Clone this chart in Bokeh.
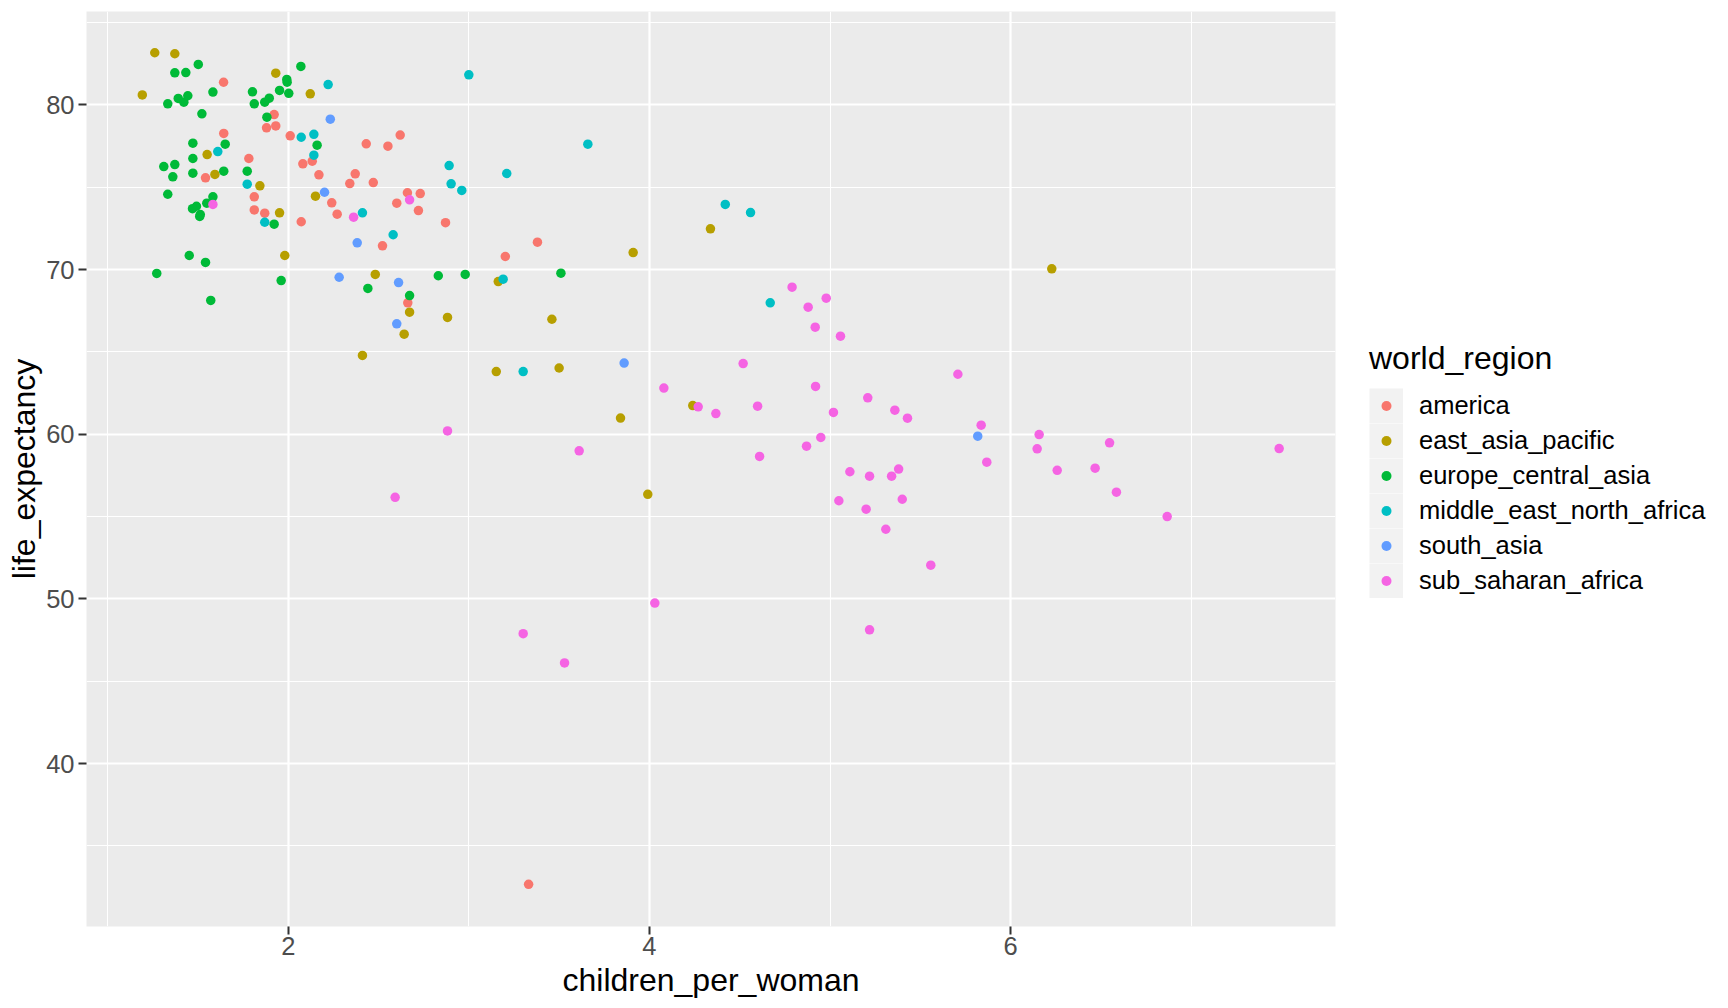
import numpy as np
from bokeh.plotting import figure
from bokeh.models import Range1d, FixedTicker, Legend, LegendItem
from bokeh.embed import file_html
from bokeh.resources import INLINE
from bokeh.core.properties import value

regions = ["america", "east_asia_pacific", "europe_central_asia",
           "middle_east_north_africa", "south_asia", "sub_saharan_africa"]
colors = ["#F8766D", "#B79F00", "#00BA38", "#00BFC4", "#619CFF", "#F564E3"]

america_cpw = [1.642, 1.643, 1.542, 1.782, 1.812, 1.812, 1.870, 1.922, 1.880, 1.931, 2.011,
               2.081, 2.133, 2.170, 2.072, 2.432, 2.552, 2.620, 2.371, 2.341, 2.471, 2.660,
               2.731, 2.241, 2.271, 2.601, 2.721, 2.871, 2.522, 3.202, 2.662, 3.380, 3.331]
america_le = [81.37, 78.26, 75.57, 76.74, 74.41, 73.62, 73.42, 79.41, 78.60, 78.72, 78.12,
              76.42, 76.58, 75.75, 72.90, 77.63, 77.49, 78.16, 75.81, 75.22, 75.28, 74.66,
              74.61, 74.05, 73.36, 74.03, 73.58, 72.84, 71.44, 70.79, 67.98, 71.66, 32.67]

eap_cpw = [1.261, 1.372, 1.192, 1.931, 2.122, 1.551, 1.594, 1.843, 1.952, 2.151, 1.981,
           2.482, 3.163, 2.672, 2.882, 2.642, 2.411, 3.152, 3.500, 4.240, 3.840, 3.991,
           3.910, 4.338, 3.460, 6.228]
eap_le = [83.16, 83.10, 80.60, 81.92, 80.67, 76.98, 75.77, 75.08, 73.44, 74.45, 70.85,
          69.70, 69.27, 67.41, 67.09, 66.07, 64.78, 63.80, 64.02, 61.74, 60.98, 56.35,
          71.03, 72.47, 66.98, 70.04]

eca_cpw = [1.502, 1.372, 1.433, 1.333, 1.391, 1.422, 1.444, 1.583, 1.522, 1.802, 1.812,
           1.870, 1.895, 2.070, 1.992, 1.994, 1.952, 2.003, 1.882, 2.160, 1.472, 1.651,
           1.472, 1.311, 1.372, 1.361, 1.472, 1.643, 1.773, 1.333, 1.583, 1.549, 1.492,
           1.470, 1.513, 1.510, 1.922, 1.452, 1.542, 1.272, 1.961, 1.571, 2.441, 2.831,
           2.980, 2.672, 3.510]
eca_le = [82.45, 81.94, 81.96, 80.06, 80.39, 80.16, 80.55, 80.77, 79.45, 80.79, 80.06,
          80.16, 80.40, 82.33, 81.54, 81.37, 80.87, 80.70, 79.25, 77.55, 77.67, 77.61,
          76.74, 76.25, 76.37, 75.63, 75.85, 75.97, 75.97, 74.57, 74.41, 74.03, 73.84,
          73.69, 73.34, 73.22, 72.75, 70.85, 70.43, 69.76, 69.33, 68.12, 68.85, 69.62,
          69.70, 68.42, 69.78]

mena_cpw = [2.072, 2.142, 2.142, 1.610, 1.773, 1.870, 2.221, 3.000, 2.891, 3.210, 2.902,
            2.961, 2.411, 2.581, 3.190, 3.301, 3.659, 4.420, 4.560, 4.669]
mena_le = [78.03, 78.21, 76.94, 77.16, 75.18, 72.87, 81.23, 81.82, 76.31, 75.83, 75.20,
           74.80, 73.44, 72.11, 69.41, 63.80, 77.61, 73.95, 73.46, 67.98]

sa_cpw = [2.233, 2.201, 2.382, 2.282, 2.611, 2.601, 3.860, 5.818]
sa_le = [79.13, 74.69, 71.62, 69.53, 69.21, 66.70, 64.32, 59.88]

ssa_cpw = [1.583, 2.362, 2.672, 4.080, 4.270, 4.368, 2.882, 3.611, 2.592, 4.030, 3.301,
           3.530, 4.790, 4.979, 4.879, 4.918, 5.058, 5.708, 4.519, 4.599, 4.610, 4.920,
           5.209, 5.019, 5.359, 5.429, 5.837, 6.158, 4.949, 4.870, 6.147, 5.868, 6.258,
           6.468, 5.110, 5.219, 5.341, 5.380, 5.049, 5.200, 5.400, 5.309, 5.558, 5.219,
           6.548, 6.586, 6.867, 7.487]
ssa_le = [73.95, 73.18, 74.23, 62.80, 61.66, 61.25, 60.20, 58.99, 56.17, 49.75, 47.89,
          46.11, 68.93, 68.26, 67.71, 66.50, 65.95, 63.64, 64.29, 61.70, 58.65, 62.90,
          62.21, 61.32, 61.46, 60.97, 60.55, 59.98, 59.80, 59.27, 59.11, 58.30, 57.81,
          57.94, 57.72, 57.45, 57.45, 57.88, 55.96, 55.45, 56.05, 54.23, 52.05, 48.12,
          59.48, 56.48, 55.00, 59.13]

x_major = [2, 4, 6]
x_minor = [1, 3, 5, 7]
y_major = [40, 50, 60, 70, 80]
y_minor = [35, 45, 55, 65, 75, 85]

series = [(america_cpw, america_le), (eap_cpw, eap_le), (eca_cpw, eca_le),
          (mena_cpw, mena_le), (sa_cpw, sa_le), (ssa_cpw, ssa_le)]

FONT = "Liberation Sans"

p = figure(frame_width=1249, frame_height=915, output_backend="svg", toolbar_location=None,
           x_range=Range1d(0.883, 7.799), y_range=Range1d(30.11, 85.665),
           min_border_left=86, min_border_right=20, min_border_top=11, min_border_bottom=74,
           background_fill_color="#EBEBEB", border_fill_color="white",
           outline_line_color=None)

xt = FixedTicker(ticks=x_major, minor_ticks=x_minor)
yt = FixedTicker(ticks=y_major, minor_ticks=y_minor)
p.xaxis.ticker = xt
p.yaxis.ticker = yt
p.xgrid.ticker = xt
p.ygrid.ticker = yt
for g in (p.xgrid, p.ygrid):
    g.grid_line_color = "white"
    g.grid_line_width = 2.2
    g.minor_grid_line_color = "white"
    g.minor_grid_line_width = 1.1

for ax in (p.xaxis, p.yaxis):
    ax.axis_line_color = None
    ax.major_tick_line_color = "#333333"
    ax.major_tick_line_width = 2
    ax.major_tick_out = 8
    ax.major_tick_in = 0
    ax.minor_tick_line_color = None
    ax.major_label_text_font = FONT
    ax.major_label_text_font_size = "25.5px"
    ax.major_label_text_color = "#4D4D4D"
    ax.axis_label_text_font = FONT
    ax.axis_label_text_font_size = "32px"
    ax.axis_label_text_font_style = "normal"
    ax.axis_label_text_color = "black"

p.xaxis.axis_label = "children_per_woman"
p.yaxis.axis_label = "life_expectancy"
p.xaxis.major_label_standoff = 2
p.xaxis.axis_label_standoff = 4
p.yaxis.major_label_standoff = 4
p.yaxis.axis_label_standoff = 1

for (xs, ys), c in zip(series, colors):
    p.scatter(x=xs, y=ys, size=9.5, fill_color=c, line_color=None)

# legend-only renderers (NaN data: nothing is drawn inside the panel)
nan = np.array([np.nan])
grey_r = p.line(x=nan, y=nan, line_color="#F2F2F2", line_width=35, line_cap="butt")
dot_rs = [p.line(x=nan, y=nan, line_color=c, line_width=10, line_cap="round",
                 line_dash="0 100", line_dash_offset=83) for c in colors]

legend = Legend(
    items=[LegendItem(label=value(r), renderers=[grey_r, d]) for r, d in zip(regions, dot_rs)],
    location=(34, 328), glyph_width=34, glyph_height=35, label_standoff=16,
    title="world_region", title_text_font=FONT, title_text_font_size="32px",
    title_text_font_style="normal", title_text_color="black", title_standoff=11,
    spacing=0, padding=0, margin=0, border_line_color=None, background_fill_alpha=0,
    label_text_font=FONT, label_text_font_size="25.5px", label_text_color="black")
p.add_layout(legend, "right")

open("out.html", "w").write(file_html(p, INLINE))
